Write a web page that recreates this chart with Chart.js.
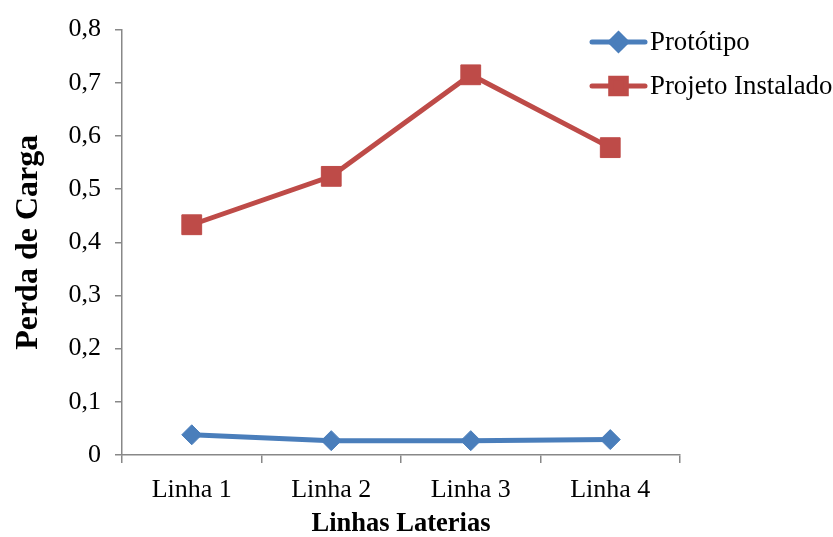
<!DOCTYPE html>
<html>
<head>
<meta charset="utf-8">
<script src="https://cdn.jsdelivr.net/npm/chart.js@4/dist/chart.umd.min.js"></script>
<style>
  html, body { margin: 0; padding: 0; background: #ffffff; }
  #wrap { width: 833px; height: 537px; position: relative; }
</style>
</head>
<body>
<div id="wrap"><canvas id="chart" width="833" height="537"></canvas></div>
<script>
// Head loss per lateral line
const categories = ['Linha 1', 'Linha 2', 'Linha 3', 'Linha 4'];
const prototipo = [0.038, 0.027, 0.027, 0.029];
const projetoInstalado = [0.433, 0.524, 0.715, 0.578];
const yTicks = [0, 0.1, 0.2, 0.3, 0.4, 0.5, 0.6, 0.7, 0.8];

const BLUE = '#4A7EBB';
const RED = '#BE4B48';
const AXIS = '#888888';
const SERIF = '"Liberation Serif", "Times New Roman", serif';

const fmt = v => String(Math.round(v * 10) / 10).replace('.', ',');

// Legend drawn over the top-right corner of the plot
const legendMarkerRadius = [8, 11];
const overlayLegend = {
  id: 'overlayLegend',
  afterDraw(chart) {
    const ctx = chart.ctx;
    const x0 = 592, x1 = 645, textX = 650;
    const rows = [42, 86];
    chart.data.datasets.forEach((ds, i) => {
      const y = rows[i];
      ctx.save();
      ctx.strokeStyle = ds.borderColor;
      ctx.lineWidth = ds.borderWidth;
      ctx.lineCap = 'round';
      ctx.beginPath();
      ctx.moveTo(x0, y);
      ctx.lineTo(x1, y);
      ctx.stroke();
      ctx.fillStyle = ds.pointBackgroundColor;
      ctx.strokeStyle = ds.pointBorderColor;
      Chart.helpers.drawPoint(ctx, {
        pointStyle: ds.pointStyle,
        radius: legendMarkerRadius[i],
        rotation: 0,
        borderWidth: 1
      }, (x0 + x1) / 2, y);
      ctx.fillStyle = '#000000';
      ctx.font = '26.8px ' + SERIF;
      ctx.textBaseline = 'middle';
      ctx.textAlign = 'left';
      ctx.fillText(ds.label, textX, y + 1);
      ctx.restore();
    });
  }
};

new Chart(document.getElementById('chart'), {
  type: 'line',
  data: {
    labels: categories,
    datasets: [
      {
        label: 'Protótipo',
        data: prototipo,
        borderColor: BLUE,
        backgroundColor: BLUE,
        pointBackgroundColor: BLUE,
        pointBorderColor: BLUE,
        borderWidth: 5,
        pointStyle: 'rectRot',
        pointRadius: 10,
        pointBorderWidth: 1,
        tension: 0
      },
      {
        label: 'Projeto Instalado',
        data: projetoInstalado,
        borderColor: RED,
        backgroundColor: RED,
        pointBackgroundColor: RED,
        pointBorderColor: RED,
        borderWidth: 5,
        pointStyle: 'rect',
        pointRadius: 14,
        pointBorderWidth: 1,
        tension: 0
      }
    ]
  },
  options: {
    responsive: false,
    animation: false,
    layout: { padding: { top: 27, right: 153, left: 0, bottom: 0 } },
    plugins: {
      legend: { display: false },
      tooltip: { enabled: false }
    },
    scales: {
      x: {
        type: 'category',
        offset: true,
        border: { display: true, color: AXIS, width: 1.5 },
        grid: { offset: true, drawOnChartArea: false, drawTicks: true, tickLength: 8, color: AXIS, lineWidth: 1.5 },
        ticks: { color: '#000000', padding: 12, font: { family: SERIF, size: 26 } },
        title: {
          display: true,
          text: 'Linhas Laterias',
          color: '#000000',
          font: { family: SERIF, size: 26.5, weight: 'bold', lineHeight: 1 },
          padding: { top: 0, bottom: 0 }
        },
        afterFit(scale) { scale.height = 82; }
      },
      y: {
        min: 0,
        max: 0.8,
        border: { display: true, color: AXIS, width: 1.5 },
        grid: { drawOnChartArea: false, drawTicks: true, tickLength: 7, color: AXIS, lineWidth: 1.5 },
        afterBuildTicks(scale) { scale.ticks = yTicks.map(v => ({ value: v })); },
        ticks: {
          color: '#000000',
          padding: 14,
          font: { family: SERIF, size: 26 },
          callback: v => fmt(v)
        },
        title: {
          display: true,
          text: 'Perda de Carga',
          color: '#000000',
          font: { family: SERIF, size: 32, weight: 'bold', lineHeight: 1 },
          padding: { top: 13, bottom: 0 }
        },
        afterFit(scale) { scale.width = 122; }
      }
    }
  },
  plugins: [overlayLegend]
});
</script>
</body>
</html>
